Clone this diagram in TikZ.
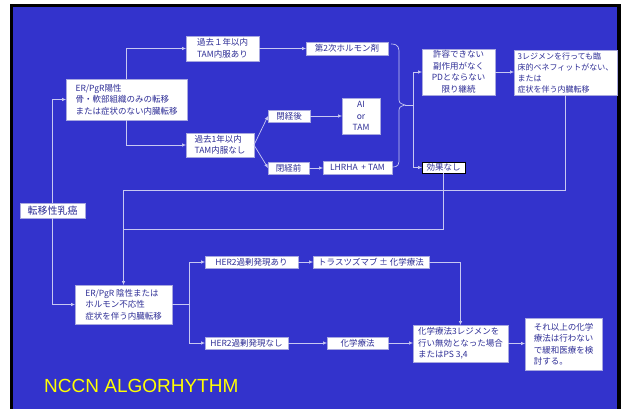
\documentclass[tikz,border=0pt]{standalone}
\usepackage{fontspec}
\setmainfont{Liberation Sans}
\newfontfamily\jp{Noto Sans CJK JP}
\usetikzlibrary{arrows.meta}
\definecolor{bg}{HTML}{3333CC}
\definecolor{txt}{HTML}{2E2E96}
\definecolor{lnc}{HTML}{C8C8F2}
\definecolor{boxline}{HTML}{A8A8E0}
\definecolor{ylw}{HTML}{FFFF00}
\tikzset{
  bx/.style={draw=boxline, line width=0.5pt, fill=white, inner sep=0pt, outer sep=0pt,
    text=txt, font=\jp\fontsize{8.5}{11.5}\selectfont},
  ln/.style={draw=lnc, line width=0.7pt},
  ar/.style={ln, -{Latex[length=4pt,width=3.6pt]}},
}
\begin{document}
\begin{tikzpicture}[x=1pt,y=-1pt]
\useasboundingbox (0,0) rectangle (623,409);
\fill[white] (0,0) rectangle (623,409);
\fill[black] (10,4) rectangle (621,409);
\fill[bg] (13,7) rectangle (617,409);

% nodes
\node[bx, minimum width=121pt, minimum height=41pt, align=left] (yang) at (126.5,99.5)
  {ER/PgR陽性\\骨・軟部組織のみの転移\\または症状のない内臓転移};
\node[bx, minimum width=73pt, minimum height=25pt, align=left] (pyes) at (222.5,48.5)
  {過去１年以内\\TAM内服あり};
\node[bx, minimum width=68pt, minimum height=24pt, align=left] (pno) at (220,145)
  {過去1年以内\\TAM内服なし};
\node[bx, minimum width=42pt, minimum height=12pt] (post) at (289,116) {閉経後};
\node[bx, minimum width=41pt, minimum height=12pt] (pre) at (288.5,168) {閉経前};
\node[bx, minimum width=82pt, minimum height=13pt] (second) at (347,48.5) {第2次ホルモン剤};
\node[bx, minimum width=38pt, minimum height=36pt, align=center] (ai) at (361,116) {AI\\or\\TAM};
\node[bx, minimum width=69pt, minimum height=13pt] (lhrha) at (357.5,167.5) {LHRHA\ \ + TAM};
\node[bx, minimum width=73pt, minimum height=46pt, align=center] (tol) at (458.5,72)
  {許容できない\\副作用がなく\\PDとならない\\限り継続};
\node[bx, minimum width=103pt, minimum height=45pt, align=left, font=\jp\fontsize{8}{11}\selectfont] (three) at (565.5,72.5)
  {3レジメンを行っても臨\\床的ベネフィットがない、\\または\\症状を伴う内臓転移};
\node[bx, draw=black, line width=1pt, minimum width=43pt, minimum height=11pt] (noeff) at (443.5,167.5) {効果なし};
\node[bx, minimum width=65pt, minimum height=15pt, font=\jp\fontsize{10}{12}\selectfont] (meta) at (52.5,210.5) {転移性乳癌};
\node[bx, minimum width=97pt, minimum height=39pt, align=left] (yin) at (123.5,304.5)
  {ER/PgR 陰性または\\ホルモン不応性\\症状を伴う内臓転移};
\node[bx, minimum width=93pt, minimum height=12pt] (hyes) at (251.5,262) {HER2過剰発現あり};
\node[bx, minimum width=83pt, minimum height=12pt] (hno) at (246.5,343) {HER2過剰発現なし};
\node[bx, minimum width=116pt, minimum height=12pt] (tras) at (371,262) {トラスツズマブ ± 化学療法};
\node[bx, minimum width=61pt, minimum height=12pt] (chemo) at (357.5,343) {化学療法};
\node[bx, minimum width=95pt, minimum height=37pt, align=left] (chemo3) at (460.5,343.5)
  {化学療法3レジメンを\\行い無効となった場合\\またはPS 3,4};
\node[bx, minimum width=77pt, minimum height=52pt, align=left] (beyond) at (563.5,344)
  {それ以上の化学\\療法は行わない\\で緩和医療を検\\討する。};
\node[anchor=west, inner sep=0pt, text=ylw, font=\fontsize{19}{22}\selectfont] (title) at (44,385.5) {NCCN ALGORHYTHM};

% coordinates
\coordinate (tip) at (405,105);
\coordinate (jn) at (413,105);
\coordinate (c1) at (123.5,190);
\coordinate (c2) at (123.5,229);
\coordinate (c3) at (189,304.5);

% connectors
\draw[ar] (meta.north) |- (yang.west);
\draw[ar] (meta.south) |- (yin.west);
\draw[ar] (yang.north) |- (pyes.west);
\draw[ar] (yang.south) |- (pno.west);
\draw[ar] (pyes) -- (second);
\draw[ar] (pno.east) -- (post.west);
\draw[ar] (pno.east) -- (pre.west);
\draw[ar] (post) -- (ai);
\draw[ar] (pre.east) -- (lhrha.west |- pre.east);
\draw[ln] (391,44) .. controls (399,44) and (399,48) .. (399,54) -- (399,97)
  .. controls (399,103) .. (tip) .. controls (399,107) .. (399,113) -- (399,158)
  .. controls (399,164) and (399,167) .. (392,167);
\draw[ln] (tip) -- (jn);
\draw[ar] (jn) |- (tol.west);
\draw[ar] (jn) |- (noeff.west);
\draw[ar] (tol.east) -- (three.west |- tol.east);
\draw[ar] (three.south) |- (c1) -- (yin.north);
\draw[ln] (noeff.south) |- (c2);
\draw[ln] (yin.east |- c3) -- (c3);
\draw[ar] (c3) |- (hyes.west);
\draw[ar] (c3) |- (hno.west);
\draw[ar] (hyes) -- (tras);
\draw[ar] (tras.east) -| (chemo3.north);
\draw[ar] (hno) -- (chemo);
\draw[ar] (chemo.east) -- (chemo3.west |- chemo.east);
\draw[ar] (chemo3.east) -- (beyond.west |- chemo3.east);
\end{tikzpicture}
\end{document}
